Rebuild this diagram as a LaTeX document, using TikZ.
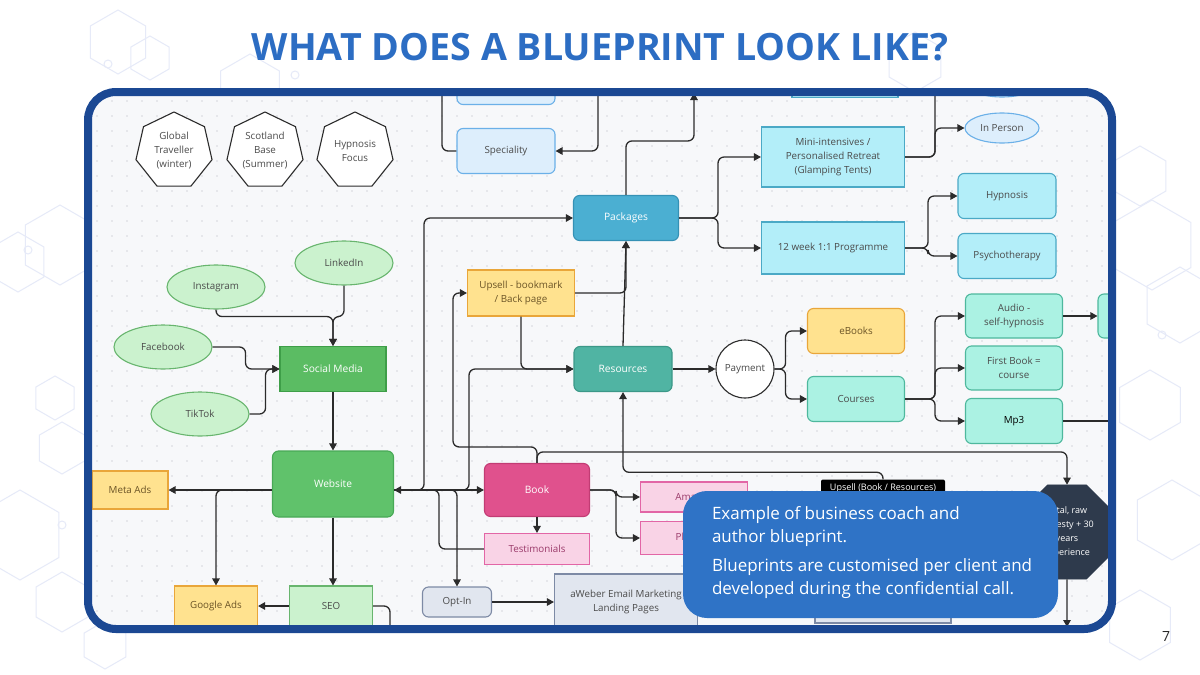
\documentclass[tikz,border=0pt]{standalone}
\usepackage{fontspec}
\setmainfont{Open Sans}
\usetikzlibrary{shapes.geometric, arrows.meta, positioning}

\definecolor{titleblue}{HTML}{2C6DC3}
\definecolor{frameblue}{HTML}{1B4893}
\definecolor{calloutblue}{HTML}{2F73C6}
\definecolor{canvascol}{HTML}{F7F8FA}
\definecolor{dotcol}{HTML}{D6D7DC}
\definecolor{hexcol}{HTML}{E6EAF8}
\definecolor{linecol}{HTML}{2B2B2B}
\definecolor{bodytext}{HTML}{4A4A4A}

\newcommand{\nodefont}{\fontsize{9.8}{14}\selectfont}
\newcommand{\hexcell}[3]{\draw[hexline] (#1,#2) +(30:#3) -- +(90:#3) -- +(150:#3) -- +(210:#3) -- +(270:#3) -- +(330:#3) -- cycle;}

\tikzset{
    box/.style={rectangle, draw, line width=1.1pt, align=center, font=\nodefont, text=bodytext, inner sep=2pt},
    rbox/.style={box, rounded corners=6pt},
    oval/.style={ellipse, draw, line width=1.1pt, align=center, font=\nodefont, text=bodytext, inner sep=0pt},
    hept/.style={regular polygon, regular polygon sides=7, minimum size=78pt, inner sep=0pt, draw=linecol, fill=white, line width=1.1pt, align=center, font=\nodefont, text=bodytext},
    paleblue/.style={fill={rgb,255:red,221;green,238;blue,252}, draw={rgb,255:red,107;green,176;blue,232}},
    aqua/.style={fill={rgb,255:red,179;green,238;blue,249}, draw={rgb,255:red,75;green,169;blue,198}},
    mint/.style={fill={rgb,255:red,171;green,242;blue,227}, draw={rgb,255:red,78;green,184;blue,157}},
    sand/.style={fill={rgb,255:red,255;green,226;blue,143}, draw={rgb,255:red,233;green,166;blue,58}, text={rgb,255:red,107;green,84;blue,38}},
    leaf/.style={fill={rgb,255:red,203;green,242;blue,206}, draw={rgb,255:red,104;green,181;blue,110}},
    rose/.style={fill={rgb,255:red,249;green,211;blue,230}, draw={rgb,255:red,226;green,102;blue,166}, text={rgb,255:red,154;green,58;blue,106}},
    slate/.style={fill={rgb,255:red,225;green,230;blue,239}, draw={rgb,255:red,125;green,138;blue,165}},
    solid/.style={text=white, font=\fontsize{10.2}{14}\selectfont},
    arrow/.style={-{Triangle[length=7pt, width=7.5pt]}, line width=1.3pt, draw=linecol, rounded corners=6pt},
    wire/.style={line width=1.3pt, draw=linecol, rounded corners=6pt},
    hexline/.style={draw=hexcol, line width=1pt},
    callout/.style={rectangle, rounded corners=24pt, fill=calloutblue, minimum width=375pt, minimum height=127pt},
    notetext/.style={align=left, text=white, font=\fontsize{17}{23}\selectfont, inner sep=0pt}
}

\begin{document}
\begin{tikzpicture}[x=1pt, y=-1pt]
\useasboundingbox (0,0) rectangle (1200,675);
\fill[white] (0,0) rectangle (1200,675);

% Background hexagons
\foreach \hx/\hy/\hr in {118/42/32, 150/58/22, 250/88/34, 60/245/40, 18/262/30, 55/398/22, 62/448/26, 20/535/45, 62/602/30, 105/645/24,
    915/62/30, 1050/192/40, 1140/176/30, 1152/245/45, 1180/305/38, 1150/405/35, 1172/520/40, 1140/625/35}
    {\hexcell{\hx}{\hy}{\hr}}
\foreach \cx/\cy in {108/64, 295/75, 28/250, 62/525, 1010/182, 1085/150, 1162/335}
    \draw[hexline] (\cx,\cy) circle (4pt);

% Frame
\fill[canvascol, rounded corners=28pt] (88,92) rectangle (1112,629);

\begin{scope}
\clip[rounded corners=24pt] (92,96) rectangle (1108,625);
\foreach \gx in {97,112,...,1105}
    \foreach \gy in {101,116,...,620}
        \fill[dotcol] (\gx,\gy) circle (0.9pt);

% Nodes
\node[hept] (globe) at (174,151) {Global\\Traveller\\(winter)};
\node[hept] (scotland) at (265,151) {Scotland\\Base\\(Summer)};
\node[hept] (hypfocus) at (355,151) {Hypnosis\\Focus};

\node[rbox, paleblue, minimum width=98pt, minimum height=45pt] (spectop) at (506,82) {};
\node[rbox, paleblue, minimum width=98pt, minimum height=45pt] (speciality) at (506,151) {Speciality};

\node[rbox, fill={rgb,255:red,75;green,175;blue,210}, draw={rgb,255:red,53;green,145;blue,181}, solid, minimum width=105pt, minimum height=45pt] (packages) at (626,218) {Packages};
\node[box, aqua, minimum width=106pt, minimum height=45pt] (minitop) at (845,75) {};
\node[box, aqua, minimum width=143pt, minimum height=60pt] (mini) at (833,157) {Mini-intensives /\\Personalised Retreat\\(Glamping Tents)};
\node[box, aqua, minimum width=143pt, minimum height=52pt] (twelve) at (833,248) {12 week 1:1 Programme};
\node[oval, paleblue, minimum width=74pt, minimum height=30pt] (inpersontop) at (1002,82) {};
\node[oval, paleblue, minimum width=74pt, minimum height=30pt] (inperson) at (1002,128) {In Person};
\node[rbox, aqua, minimum width=98pt, minimum height=45pt] (hypno) at (1007,196) {Hypnosis};
\node[rbox, aqua, minimum width=98pt, minimum height=45pt] (psycho) at (1007,256) {Psychotherapy};

\node[box, sand, minimum width=107pt, minimum height=46pt] (upsellbm) at (521,293) {Upsell - bookmark\\/ Back page};
\node[rbox, fill={rgb,255:red,80;green,180;blue,163}, draw={rgb,255:red,60;green,152;blue,136}, solid, minimum width=98pt, minimum height=45pt] (resources) at (623,369) {Resources};
\node[circle, draw=linecol, fill=white, line width=1.1pt, minimum size=58pt, inner sep=0pt, font=\nodefont, text=bodytext] (payment) at (745,369) {Payment};
\node[rbox, sand, minimum width=97pt, minimum height=45pt] (ebooks) at (856,331) {eBooks};
\node[rbox, mint, minimum width=97pt, minimum height=45pt] (courses) at (856,399) {Courses};
\node[rbox, mint, minimum width=97pt, minimum height=44pt] (audio) at (1014,316) {Audio -\\self-hypnosis};
\node[rbox, mint, minimum width=97pt, minimum height=44pt] (firstbook) at (1014,368) {First Book =\\course};
\node[rbox, mint, minimum width=97pt, minimum height=45pt, text=black] (mp3) at (1014,421) {Mp3};
\node[rbox, mint, minimum width=84pt, minimum height=44pt] (audionext) at (1140,316) {};

\node[oval, leaf, minimum width=98pt, minimum height=44pt] (insta) at (216,287) {Instagram};
\node[oval, leaf, minimum width=98pt, minimum height=44pt] (linked) at (344,263) {LinkedIn};
\node[oval, leaf, minimum width=98pt, minimum height=44pt] (fb) at (163,347) {Facebook};
\node[oval, leaf, minimum width=98pt, minimum height=44pt] (tiktok) at (200,414) {TikTok};
\node[box, fill={rgb,255:red,91;green,188;blue,99}, draw={rgb,255:red,62;green,158;blue,72}, solid, minimum width=106pt, minimum height=45pt] (social) at (333,369) {Social Media};
\node[rbox, fill={rgb,255:red,96;green,194;blue,107}, draw={rgb,255:red,72;green,169;blue,86}, solid, minimum width=121pt, minimum height=66pt] (website) at (333,484) {Website};
\node[box, sand, minimum width=76pt, minimum height=38pt] (meta) at (130,490) {Meta Ads};
\node[box, sand, minimum width=83pt, minimum height=40pt] (google) at (216,606) {Google Ads};
\node[box, leaf, minimum width=83pt, minimum height=40pt] (seo) at (331,606) {SEO};

\node[rbox, fill={rgb,255:red,224;green,81;blue,141}, draw={rgb,255:red,194;green,60;blue,116}, solid, minimum width=105pt, minimum height=53pt] (book) at (537,490) {Book};
\node[box, rose, minimum width=105pt, minimum height=31pt] (testi) at (537,549) {Testimonials};
\node[box, rose, minimum width=107pt, minimum height=30pt] (amazon) at (694,497) {Amazon};
\node[box, rose, minimum width=107pt, minimum height=33pt] (physical) at (694,538) {Physical};
\node[rbox, slate, minimum width=69pt, minimum height=30pt] (optin) at (457,602) {Opt-In};
\node[box, slate, minimum width=143pt, minimum height=56pt] (aweber) at (626,602) {aWeber Email Marketing\\Landing Pages};
\node[box, slate, minimum width=136pt, minimum height=36pt] (lowbox) at (883,605) {};
\node[rectangle, rounded corners=2pt, fill=black, text=white, font=\fontsize{9}{10}\selectfont, minimum width=124pt, minimum height=17pt, inner sep=1pt] (upsellbr) at (883,488) {Upsell (Book / Resources)};
\node[regular polygon, regular polygon sides=8, minimum size=102pt, inner sep=0pt, fill={rgb,255:red,46;green,58;blue,76}, draw={rgb,255:red,46;green,58;blue,76}, text=white, align=center, font=\fontsize{9}{14}\selectfont] (honesty) at (1067,532) {Total, raw\\honesty + 30\\years\\experience};

% Free ends
\coordinate (specin) at (442,90);
\coordinate (specsrc) at (598,90);
\coordinate (pkgout) at (694,93);
\coordinate (miniout) at (935,90);
\coordinate (mp3out) at (1112,421);
\coordinate (honout) at (1067,627);
\coordinate (seoout) at (390,632);

% Arrows
\draw[wire] (specin) |- (speciality.west);
\draw[arrow] (specsrc) |- (speciality.east);
\draw[arrow] (packages.north) -- ++(0,-54) -| (pkgout);
\draw[arrow] (packages.east) -- ++(39,0) |- (mini.west);
\draw[arrow] (packages.east) -- ++(39,0) |- (twelve.west);
\draw[arrow] (mini.east) -- ++(30,0) |- (inperson.west);
\draw[wire] (mini.east) -| (miniout);
\draw[arrow] (twelve.east) -- ++(23,0) |- (hypno.west);
\draw[arrow] (twelve.east) -- ++(23,0) |- (psycho.west);

\draw[arrow] (insta.south) -- ++(0,7) -| (social.north);
\draw[arrow] (linked.south) -- ++(0,31) -| (social.north);
\draw[arrow] (fb.east) -- ++(33,0) |- (social.west);
\draw[arrow] (tiktok.east) -- ++(16,0) |- (social.west);
\draw[arrow] (social.south) -- (website.north);

\draw[arrow] ([yshift=-6pt]website.west) -- (meta.east);
\draw[arrow] ([yshift=-6pt]website.west) -| (google.north);
\draw[arrow] (website.south) -- (website.south |- seo.north);
\draw[arrow] (seo.west) -- (google.east);
\draw[wire] (seo.east) -| (seoout);
\draw[arrow] ([yshift=-6pt]website.east) -- (book.west);
\draw[arrow] ([yshift=-6pt]website.east) -- ++(30,0) |- (packages.west);
\draw[arrow] ([yshift=-6pt]website.east) -- ++(75,0) |- (resources.west);
\draw[arrow] ([yshift=-6pt]website.east) -| (optin.north);
\draw[arrow] (testi.west) -| ([xshift=45pt, yshift=-6pt]website.east) -- ([yshift=-6pt]website.east);

\draw[arrow] (book.north) -- ++(0,-16) -- ++(-84,0) |- (upsellbm.west);
\draw[arrow] (book.north) -- ++(0,-11) -| (honesty.north);
\draw[arrow] (book.south) -- (testi.north);
\draw[arrow] (book.east) -- ++(26,0) |- (amazon.west);
\draw[arrow] (book.east) -- ++(26,0) |- (physical.west);
\draw[arrow] (optin.east) -- (aweber.west);

\draw[arrow] (upsellbm.east) -| (packages.south);
\draw[arrow] (resources.north) -- (packages.south);
\draw[arrow] (upsellbm.south) |- (resources.west);
\draw[arrow] (resources.east) -- (payment.west);
\draw[arrow] (payment.east) -- ++(11,0) |- (ebooks.west);
\draw[arrow] (payment.east) -- ++(11,0) |- (courses.west);
\draw[arrow] (courses.east) -- ++(30,0) |- (audio.west);
\draw[arrow] (courses.east) -- ++(30,0) |- (firstbook.west);
\draw[arrow] (courses.east) -- ++(30,0) |- (mp3.west);
\draw[arrow] (audio.east) -- (audionext.west);
\draw[wire] (mp3.east) -- (mp3out);
\draw[arrow] (upsellbr.north) -- ++(0,-7) -| (resources.south);
\draw[arrow] (honesty.south) -- (honout);
\end{scope}

\draw[frameblue, line width=8pt, rounded corners=28pt] (88,92) rectangle (1112,629);

% Callout
\node[callout] (note) at (870.5,554.5) {};
\node[notetext, anchor=north west] (notetxt) at ([xshift=29pt, yshift=-15pt]note.north west)
    {Example of business coach and\\author blueprint.\\[6pt]Blueprints are customised per client and\\developed during the confidential call.};

% Title and page number
\node[font=\fontsize{37.6}{42}\selectfont\bfseries, text=titleblue] (heading) at (600,47) {WHAT DOES A BLUEPRINT LOOK LIKE?};
\node[font=\fontsize{14}{16}\selectfont, text={rgb,255:red,40;green,40;blue,40}] (pagenum) at (1166,636) {7};
\end{tikzpicture}
\end{document}
